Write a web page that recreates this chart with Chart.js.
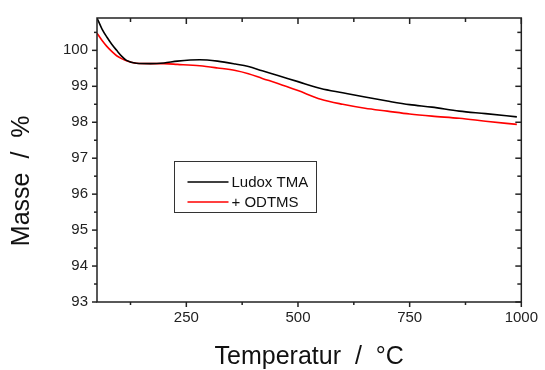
<!DOCTYPE html>
<html>
<head>
<meta charset="utf-8">
<script src="https://cdn.jsdelivr.net/npm/chart.js@4.4.1/dist/chart.umd.min.js"></script>
<style>
  html, body { margin: 0; background: #fff; }
  canvas { display: block; }
</style>
</head>
<body>
<canvas id="tga" width="545" height="370"></canvas>
<script>
// TGA curves
const temperatures = [50, 61, 72, 83, 94, 105, 116, 138, 170, 200, 230, 280, 320, 360, 389, 420, 455, 500, 551, 600, 650, 700, 750, 800, 861, 920, 990];
const massLudox = [100.9, 100.6, 100.37, 100.17, 100.0, 99.84, 99.72, 99.64, 99.63, 99.65, 99.7, 99.74, 99.7, 99.62, 99.55, 99.43, 99.3, 99.13, 98.94, 98.82, 98.7, 98.59, 98.49, 98.42, 98.31, 98.24, 98.15];
const massOdtms = [100.48, 100.28, 100.11, 99.97, 99.85, 99.77, 99.71, 99.64, 99.63, 99.63, 99.61, 99.57, 99.51, 99.44, 99.35, 99.22, 99.08, 98.88, 98.64, 98.5, 98.39, 98.31, 98.23, 98.17, 98.11, 98.03, 97.94];
const seriesNames = ["Ludox TMA", "+ ODTMS"];
const seriesColors = ["#000000", "#ff0000"];

const xMajorTicks = [250, 500, 750, 1000];
const xMinorTicks = [125, 375, 625, 875];
const yMajorTicks = [93, 94, 95, 96, 97, 98, 99, 100];
const yMinorTicks = [93.5, 94.5, 95.5, 96.5, 97.5, 98.5, 99.5, 100.5];

const axisColor = "#222";
const font = "'Liberation Sans', Arial, sans-serif";

// box round the plot, with ticks out on left/bottom and in on top/right
const frameTicksPlugin = {
  id: "frameTicks",
  afterDraw(chart) {
    const { ctx, chartArea: a, scales } = chart;
    const x = scales.x;
    const y = scales.y;
    ctx.save();
    ctx.strokeStyle = axisColor;
    ctx.lineWidth = 1.5;
    ctx.strokeRect(a.left, a.top, a.right - a.left, a.bottom - a.top);

    const tick = (x1, y1, x2, y2) => {
      ctx.beginPath();
      ctx.moveTo(x1, y1);
      ctx.lineTo(x2, y2);
      ctx.stroke();
    };
    const xTicks = (values, len) => values.forEach((v) => {
      const px = x.getPixelForValue(v);
      tick(px, a.bottom, px, a.bottom + len);
      tick(px, a.top, px, a.top + len + 1);
    });
    const yTicks = (values, len) => values.forEach((v) => {
      const py = y.getPixelForValue(v);
      tick(a.left - len, py, a.left, py);
      tick(a.right, py, a.right - len - 1, py);
    });
    xTicks(xMajorTicks, 5);
    xTicks(xMinorTicks, 3);
    yTicks(yMajorTicks, 5);
    yTicks(yMinorTicks, 3);
    ctx.restore();
  },
};

const boxLegendPlugin = {
  id: "boxLegend",
  afterDraw(chart) {
    const { ctx } = chart;
    const box = { left: 174.5, top: 161.5, width: 142, height: 51 };
    ctx.save();
    ctx.fillStyle = "#fff";
    ctx.fillRect(box.left, box.top, box.width, box.height);
    ctx.strokeStyle = "#333";
    ctx.lineWidth = 1;
    ctx.strokeRect(box.left, box.top, box.width, box.height);
    ctx.font = `15px ${font}`;
    ctx.textBaseline = "middle";
    chart.data.datasets.forEach((ds, i) => {
      const rowY = box.top + 20.5 + i * 20;
      ctx.strokeStyle = ds.borderColor;
      ctx.lineWidth = 1.5;
      ctx.beginPath();
      ctx.moveTo(box.left + 13, rowY);
      ctx.lineTo(box.left + 54, rowY);
      ctx.stroke();
      ctx.fillStyle = "#111";
      ctx.fillText(ds.label, box.left + 57, rowY + 1);
    });
    ctx.restore();
  },
};

new Chart(document.getElementById("tga"), {
  type: "line",
  data: {
    datasets: [
      {
        label: seriesNames[0],
        data: temperatures.map((t, i) => ({ x: t, y: massLudox[i] })),
        borderColor: seriesColors[0],
        borderWidth: 1.6,
        pointRadius: 0,
        cubicInterpolationMode: "monotone",
      },
      {
        label: seriesNames[1],
        data: temperatures.map((t, i) => ({ x: t, y: massOdtms[i] })),
        borderColor: seriesColors[1],
        borderWidth: 1.6,
        pointRadius: 0,
        cubicInterpolationMode: "monotone",
      },
    ],
  },
  options: {
    responsive: false,
    animation: false,
    layout: { padding: { top: 14, right: 18, left: 0, bottom: 0 } },
    plugins: {
      legend: { display: false },
      tooltip: { enabled: false },
    },
    scales: {
      x: {
        type: "linear",
        min: 50,
        max: 1000,
        grid: { display: false, drawTicks: false },
        border: { display: false },
        afterBuildTicks: (s) => { s.ticks = xMajorTicks.map((v) => ({ value: v })); },
        afterFit: (s) => { s.height = 68; },
        ticks: {
          padding: 7,
          color: axisColor,
          font: { family: font, size: 15 },
          callback: (v) => String(v),
        },
        title: {
          display: true,
          text: "Temperatur  /  °C",
          color: "#111",
          font: { family: font, size: 25, lineHeight: 1 },
          padding: { top: 0, bottom: 0 },
        },
      },
      y: {
        min: 93,
        max: 100.9,
        grid: { display: false, drawTicks: false },
        border: { display: false },
        afterBuildTicks: (s) => { s.ticks = yMajorTicks.map((v) => ({ value: v })); },
        afterFit: (s) => { s.width = 97; },
        ticks: {
          padding: 9,
          color: axisColor,
          font: { family: font, size: 15 },
          callback: (v) => String(v),
        },
        title: {
          display: true,
          text: "Masse  /  %" + "\u00a0".repeat(6),
          color: "#111",
          font: { family: font, size: 25, lineHeight: 1 },
          padding: { top: 10, bottom: 0 },
        },
      },
    },
  },
  plugins: [frameTicksPlugin, boxLegendPlugin],
});
</script>
</body>
</html>
